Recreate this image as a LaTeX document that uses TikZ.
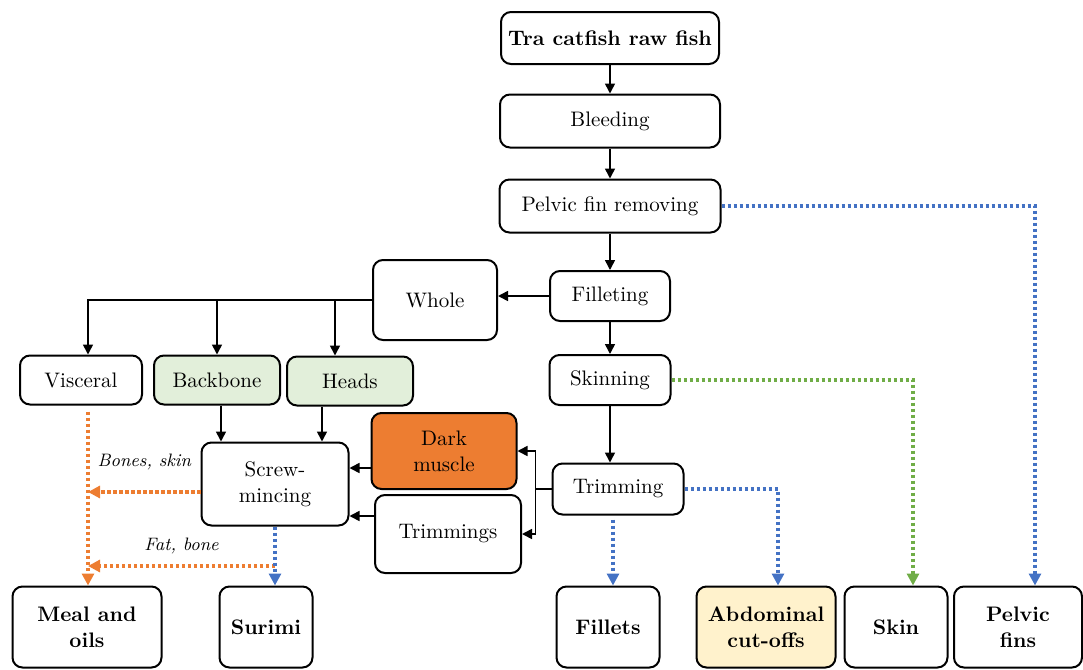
\documentclass[tikz,border=0pt]{standalone}
\usepackage{tikz}
\usetikzlibrary{arrows.meta,positioning}
\definecolor{orangeline}{HTML}{ED7D31}
\definecolor{blueline}{HTML}{4472C4}
\definecolor{greenline}{HTML}{70AD47}
\definecolor{greenfill}{HTML}{E2EFDA}
\definecolor{creamfill}{HTML}{FFF2CC}

\begin{document}
\begin{tikzpicture}[
  x=0.5pt,y=-0.5pt,
  font=\fontsize{10.5}{13}\selectfont,
  proc/.style={draw,rounded corners=5pt,line width=1pt,align=center,inner sep=1pt},
  note/.style={font=\fontsize{9}{11}\selectfont\itshape,black},
  flow/.style={line width=0.8pt,-{Triangle[length=5pt,width=5pt]}},
  side/.style={line width=1.6pt,dash pattern=on 1.6pt off 1.4pt,-{Triangle[length=6pt,width=6pt]}}
]
  \useasboundingbox (0,0) rectangle (1083,670);

  % main column
  \node[proc,minimum width=109pt,minimum height=26pt] (R) at (610,38) {\textbf{Tra catfish raw fish}};
  \node[proc,minimum width=110pt,minimum height=26.5pt] (B) at (610,121) {Bleeding};
  \node[proc,minimum width=110.5pt,minimum height=26.5pt] (P) at (610,206) {Pelvic fin removing};
  \node[proc,minimum width=60pt,minimum height=25pt] (F) at (610,296) {Filleting};
  \node[proc,minimum width=60.5pt,minimum height=25pt] (S) at (610,380) {Skinning};
  \node[proc,minimum width=65.5pt,minimum height=25.5pt] (T) at (618,489) {Trimming};

  % by-products
  \node[proc,minimum width=62pt,minimum height=40pt] (Wh) at (435,300) {Whole};
  \node[proc,minimum width=61pt,minimum height=24.5pt] (Vi) at (81,380) {Visceral};
  \node[proc,fill=greenfill,minimum width=63pt,minimum height=24.5pt] (Bb) at (217,380) {Backbone};
  \node[proc,fill=greenfill,minimum width=63pt,minimum height=24.5pt] (Hd) at (350,381) {Heads};
  \node[proc,fill=orangeline,minimum width=72.5pt,minimum height=38pt] (Dm) at (444,451) {Dark\\muscle};
  \node[proc,minimum width=73pt,minimum height=39pt] (Tm) at (448,534) {Trimmings};
  \node[proc,minimum width=73.5pt,minimum height=41.5pt] (Sm) at (275,484) {Screw-\\mincing};

  % products
  \node[proc,minimum width=74.5pt,minimum height=40.5pt] (Mo) at (87,627) {\textbf{Meal and}\\\textbf{oils}};
  \node[proc,minimum width=46.5pt,minimum height=40.5pt] (Su) at (266,627) {\textbf{Surimi}};
  \node[proc,minimum width=51.5pt,minimum height=40.5pt] (Fi) at (608,627) {\textbf{Fillets}};
  \node[proc,fill=creamfill,minimum width=69.5pt,minimum height=40.5pt] (Ab) at (766,627) {\textbf{Abdominal}\\\textbf{cut-offs}};
  \node[proc,minimum width=51.5pt,minimum height=40.5pt] (Sk) at (896,627) {\textbf{Skin}};
  \node[proc,minimum width=64pt,minimum height=40.5pt] (Pf) at (1018,627) {\textbf{Pelvic}\\\textbf{fins}};

  % solid flow
  \draw[flow] (R) -- (B);
  \draw[flow] (B) -- (P);
  \draw[flow] (P) -- (F);
  \draw[flow] (F) -- (S);
  \draw[flow] (S.south) -- (S.south |- T.north);
  \draw[flow] (F.west) -- (F.west -| Wh.east);
  \draw[flow] (Wh.west) -| ([xshift=3.5pt]Vi.north);
  \draw[flow] (Wh.west) -| (Bb.north);
  \draw[flow] (Wh.west) -| ([xshift=-7.5pt]Hd.north);
  \draw[flow] ([xshift=-27pt]Sm.north |- Bb.south) -- ([xshift=-27pt]Sm.north);
  \draw[flow] ([xshift=23.5pt]Sm.north |- Hd.south) -- ([xshift=23.5pt]Sm.north);
  \draw[flow] ([yshift=-8.5pt]Dm.west) -- ([yshift=-8.5pt]Dm.west -| Sm.east);
  \draw[flow] ([yshift=9pt]Tm.west) -- ([yshift=9pt]Tm.west -| Sm.east);
  \draw[line width=0.8pt] (T.west) -- ++(-8pt,0) coordinate (br);
  \draw[flow] (br) |- (Dm.east);
  \draw[flow] (br) |- (Tm.east);

  % side streams
  \coordinate (vx) at ([xshift=3.5pt,yshift=-3pt]Vi.south);
  \draw[side,orangeline] (vx) -- (vx |- Mo.north);
  \draw[side,orangeline] ([yshift=-4pt]Sm.west) -- ([yshift=-4pt]Sm.west -| vx)
    node[note,midway,above=7pt] {Bones, skin};
  \coordinate (fb) at ([yshift=-19.75pt]Sm.south);
  \draw[side,orangeline] (fb) -- (fb -| vx)
    node[note,midway,above=2pt] {Fat, bone};
  \draw[side,blueline] (Sm.south) -- (Sm.south |- Su.north);
  \draw[side,blueline] ([xshift=-2.5pt,yshift=-2pt]T.south) -- ([xshift=-2.5pt]T.south |- Fi.north);
  \draw[side,blueline] (T.east) -| ([xshift=6pt]Ab.north);
  \draw[side,greenline] (S.east) -| ([xshift=8.5pt]Sk.north);
  \draw[side,blueline] (P.east) -| ([xshift=8.5pt]Pf.north);
\end{tikzpicture}
\end{document}
